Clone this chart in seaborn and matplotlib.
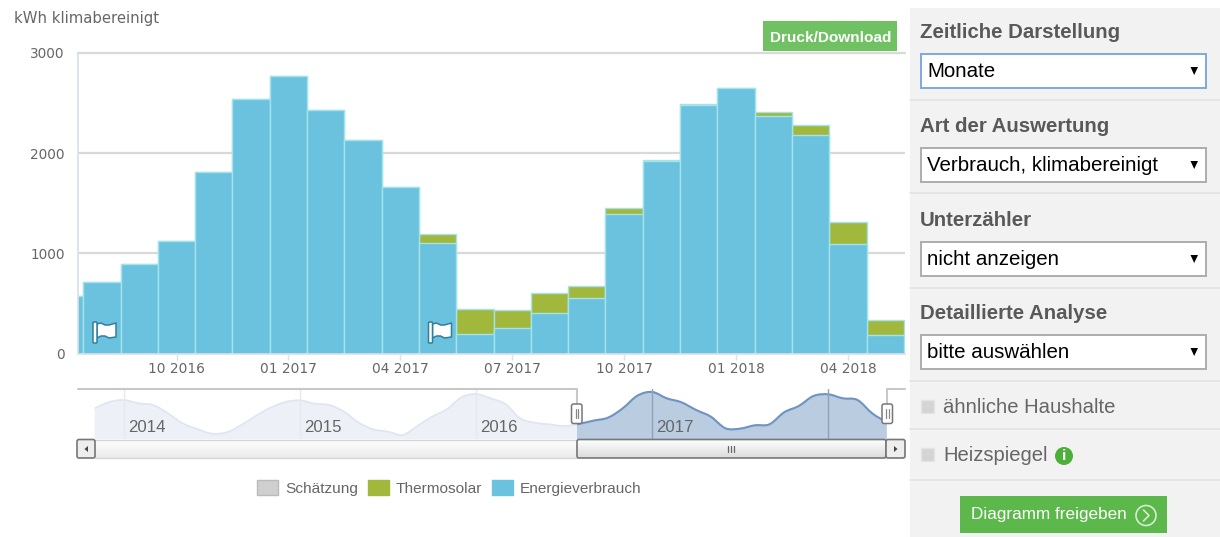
import matplotlib
matplotlib.use('Agg')
import matplotlib.pyplot as plt
from matplotlib.patches import Rectangle, FancyBboxPatch, Circle, Polygon, Patch, PathPatch
from matplotlib.path import Path
import numpy as np
import seaborn as sns

# monthly values, main chart
months = ['07 2016', '08 2016', '09 2016', '10 2016', '11 2016', '12 2016',
          '01 2017', '02 2017', '03 2017', '04 2017', '05 2017', '06 2017',
          '07 2017', '08 2017', '09 2017', '10 2017', '11 2017', '12 2017',
          '01 2018', '02 2018', '03 2018', '04 2018', '05 2018']
verbrauch = [575, 715, 895, 1125, 1815, 2545,
             2775, 2432, 2132, 1663, 1108, 198,
             252, 408, 558, 1390, 1925, 2478,
             2647, 2368, 2182, 1090, 182]
thermosolar = [0, 0, 0, 0, 0, 0,
               0, 0, 0, 0, 90, 243,
               180, 199, 113, 63, 10, 13,
               0, 43, 103, 223, 156]
y_ticks = [0, 1000, 2000, 3000]
x_tick_labels = ['10 2016', '01 2017', '04 2017', '07 2017', '10 2017', '01 2018', '04 2018']

# navigator overview, one value per month starting 11 2013
nav_values = [1860, 2240, 2360, 2160, 2060, 1560, 960, 620, 340, 420, 860, 1420,
              1900, 2240, 2340, 2140, 2060, 1660, 1000, 600, 460, 260, 800, 1360,
              1800, 2520, 2720, 2460, 2120, 1260, 1000, 900, 800, 920, 1120, 1300,
              1860, 2620, 2840, 2460, 2220, 1760, 1360, 660, 640, 840, 900, 1620,
              2000, 2600, 2700, 2460, 2360, 1560, 1020]
nav_years = ['2014', '2015', '2016', '2017']

legend_labels = ['Schätzung', 'Thermosolar', 'Energieverbrauch']
legend_colors = ['#cfcfcf', '#a2b83c', '#6bc2df']

panel_titles = ['Zeitliche Darstellung', 'Art der Auswertung', 'Unterzähler', 'Detaillierte Analyse']
panel_selects = ['Monate', 'Verbrauch, klimabereinigt', 'nicht anzeigen', 'bitte auswählen']

W, H = 1220, 537
BLUE = '#6bc2df'
GREEN = '#a2b83c'
EDGE = '#a5e3ea'
AXIS = '#d6e2ec'
TEXT = '#666666'

sns.set_theme(style='white')
plt.rcParams['font.family'] = ['Liberation Sans', 'DejaVu Sans']
plt.rcParams['patch.force_edgecolor'] = False


def axes_px(left, top, right, bottom, **kw):
    return fig.add_axes([left / W, 1 - bottom / H, (right - left) / W, (bottom - top) / H], **kw)


def spline_path(xs, ys, close=False):
    # the overview is an area spline, draw it with bezier segments through the points
    pts = np.column_stack([xs, ys]).astype(float)
    verts = [pts[0]]
    codes = [Path.MOVETO]
    for i in range(len(pts) - 1):
        before = pts[max(i - 1, 0)]
        after = pts[min(i + 2, len(pts) - 1)]
        verts += [pts[i] + (pts[i + 1] - before) / 6, pts[i + 1] - (after - pts[i]) / 6, pts[i + 1]]
        codes += [Path.CURVE4] * 3
    if close:
        verts += [(xs[-1], 0), (xs[0], 0), pts[0]]
        codes += [Path.LINETO, Path.LINETO, Path.CLOSEPOLY]
    return Path(verts, codes)


fig = plt.figure(figsize=(W / 100, H / 100), dpi=100, facecolor='white')

# main stacked bars: totals first, consumption painted over them
ax = axes_px(78, 53, 905, 353.5)
total = np.array(verbrauch) + np.array(thermosolar)
sns.barplot(x=months, y=total, color=GREEN, saturation=1, width=1, edgecolor=EDGE, linewidth=1, ax=ax)
sns.barplot(x=months, y=verbrauch, color=BLUE, saturation=1, width=1, edgecolor=EDGE, linewidth=1, ax=ax)
ax.set_xlim(0.359, 22.53)
ax.set_ylim(0, 3000)
ax.set_yticks(y_ticks)
ax.set_xticks([months.index(m) for m in x_tick_labels])
ax.set_xticklabels(x_tick_labels)
ax.tick_params(axis='x', length=4, width=1, color=AXIS, labelcolor=TEXT, labelsize=9.9, pad=2, bottom=True)
ax.tick_params(axis='y', length=0, labelcolor=TEXT, labelsize=9.8, pad=9.5)
for lab in ax.get_xticklabels() + ax.get_yticklabels():
    lab.set_family('DejaVu Sans')
ax.yaxis.grid(True, color='#d9d9d9', linewidth=1.6)
ax.set_axisbelow(True)
gridlines = ax.get_ygridlines()
gridlines[0].set_visible(False)
gridlines[-1].set_clip_on(False)
for side in ['top', 'right']:
    ax.spines[side].set_visible(False)
for side in ['left', 'bottom']:
    ax.spines[side].set_color(AXIS)
    ax.spines[side].set_linewidth(1.2)
ax.set_xlabel('')
ax.set_ylabel('')

# navigator
nav = axes_px(78, 389, 905, 439.3)
nav_x = np.arange(len(nav_values)) - 2
nav.set_xlim(-3.136, 53.24)
nav.set_ylim(0, 3020)
nav.axis('off')
sel_start = (577 - 124) / 14.67
area = spline_path(nav_x, nav_values, close=True)
line = spline_path(nav_x, nav_values)
nav.add_patch(PathPatch(area, facecolor='#edf0f6', edgecolor='none'))
nav.add_patch(PathPatch(line, facecolor='none', edgecolor='#dde6f1', linewidth=1.2))
clip = Rectangle((sel_start, 0), 60, 3020, transform=nav.transData)
sel_area = nav.add_patch(PathPatch(area, facecolor='#b9cce0', edgecolor='none'))
sel_line = nav.add_patch(PathPatch(line, facecolor='none', edgecolor='#6f94c3', linewidth=1.5))
sel_area.set_clip_path(clip)
sel_line.set_clip_path(clip)
for i in range(5):
    nav.axvline(i * 12, color='#8fa3b8' if i >= 3 else '#e6e9ee', linewidth=1, zorder=3)
for i, year in enumerate(nav_years):
    nav.text(i * 12 + 0.25, 680, year, fontsize=12.1, color=TEXT, va='center', ha='left', zorder=4)

# everything around the chart, in pixel coordinates
ui = fig.add_axes([0, 0, 1, 1], zorder=5)
ui.set_xlim(0, W)
ui.set_ylim(H, 0)
ui.axis('off')
ui.patch.set_alpha(0)


def rect(x0, y0, x1, y1, fc, ec='none', lw=0, z=2):
    ui.add_patch(Rectangle((x0, y0), x1 - x0, y1 - y0, facecolor=fc, edgecolor=ec, linewidth=lw, zorder=z))


def rbox(x0, y0, x1, y1, fc, ec, lw=1.2, rad=2, z=3):
    ui.add_patch(FancyBboxPatch((x0 + rad, y0 + rad), x1 - x0 - 2 * rad, y1 - y0 - 2 * rad,
                                boxstyle='round,pad=%d,rounding_size=%d' % (rad, rad),
                                facecolor=fc, edgecolor=ec, linewidth=lw, zorder=z))


ui.text(14, 19, 'kWh klimabereinigt', fontsize=10.7, color=TEXT, family='DejaVu Sans', va='center')

# flags
for fx in [93, 428.5]:
    flag = [(4, 2), (8, 1), (12, 3), (16, 3), (23, 1), (23, 15), (16, 16), (12, 14), (8, 14), (4, 16)]
    ui.add_patch(Polygon([(fx + a, 322 + b) for a, b in flag], closed=True, facecolor='white',
                         edgecolor='#2f7f9f', linewidth=1.1, joinstyle='round', zorder=3))
    rbox(fx, 322, fx + 4, 343, 'white', '#2f7f9f', lw=1.1, rad=1, z=4)

# Druck/Download
rect(763, 21, 897, 51, '#70c162')
ui.text(830.5, 38.5, 'Druck/Download', fontsize=11.1, color='white', fontweight='bold', ha='center', va='center', zorder=4)

# navigator frame, handles and scrollbar
ui.plot([78, 577, 577], [389, 389, 405], color='#c8c8c8', linewidth=1.5, zorder=3)
ui.plot([887, 887, 905], [405, 389, 389], color='#c8c8c8', linewidth=1.5, zorder=3)
grad = np.linspace(1, 0.86, 32).reshape(-1, 1)
ui.imshow(grad, extent=(95, 577, 458, 439), cmap='gray', vmin=0, vmax=1, aspect='auto', zorder=2, alpha=0.55)
ui.imshow(grad, extent=(577, 886, 458, 439), cmap='gray', vmin=0, vmax=1, aspect='auto', zorder=3)
ui.set_xlim(0, W)
ui.set_ylim(H, 0)
ui.plot([95, 577], [439.5, 439.5], color='#d5d5d5', linewidth=1, zorder=3)
ui.plot([95, 577], [457.5, 457.5], color='#d5d5d5', linewidth=1, zorder=3)
rbox(577, 439.5, 886, 458, 'none', '#777777')
rbox(77, 439.5, 95, 458, '#eeeeee', '#777777')
rbox(886, 439.5, 905, 458, '#eeeeee', '#777777')
ui.add_patch(Polygon([(88, 446), (88, 452), (84.5, 449)], facecolor='#444444', edgecolor='none', zorder=4))
ui.add_patch(Polygon([(894, 446), (894, 452), (897.5, 449)], facecolor='#444444', edgecolor='none', zorder=4))
for gx in [727.5, 730.5, 733.5]:
    ui.plot([gx, gx], [445.5, 452], color='#666666', linewidth=0.9, zorder=4)
for hx in [571.5, 882]:
    rbox(hx, 404, hx + 10.5, 423.5, 'white', '#777777', lw=1.1, rad=2, z=5)
    for dx in [4, 6.5]:
        ui.plot([hx + dx, hx + dx], [409, 418], color='#888888', linewidth=0.9, zorder=6)

# right panel
rect(910, 8, W, H, '#f2f2f2', z=1)
for sy in [100, 193, 288, 381, 429, 480]:
    ui.plot([910, W], [sy, sy], color='#e3e3e3', linewidth=1.2, zorder=2)
for title, sel, ty in zip(panel_titles, panel_selects, [32, 126, 220, 313]):
    focused = sel == 'Monate'
    ui.text(920, ty + 0.8, title, fontsize=14.7, fontweight='bold', color='#595959', va='center')
    rect(921, ty + 21.5, 1206, ty + 55.5, 'white', '#7fa8e2' if focused else '#adadad', 1.4, z=3)
    ui.text(927, ty + 39.8, sel, fontsize=14.8, color='black', va='center', zorder=4)
    ui.add_patch(Polygon([(1190.5, ty + 35), (1198, ty + 35), (1194.2, ty + 43)], facecolor='black', edgecolor='none', zorder=4))

for label, cy in zip(['ähnliche Haushalte', 'Heizspiegel'], [407, 455]):
    rect(921, cy - 7, 934, cy + 6, '#d4d4d4', '#e4e4e4', 1, z=3)
    ui.text(943, cy + 0.5, label, fontsize=14.6, color=TEXT, va='center', zorder=4)
ui.add_patch(Circle((1064, 456), 9, facecolor='#4caf3a', edgecolor='none', zorder=3))
ui.text(1064, 456, 'i', fontsize=11, fontweight='bold', color='white', ha='center', va='center', zorder=4)

rect(960, 496, 1167, 533, '#5cb84a')
ui.text(971, 514.5, 'Diagramm freigeben', fontsize=12.3, color='white', va='center', zorder=4)
ui.add_patch(Circle((1146, 515.5), 10, facecolor='none', edgecolor='#d5edd0', linewidth=1.2, zorder=4))
ui.plot([1143.5, 1149, 1143.5], [510, 515.5, 521], color='#d5edd0', linewidth=1.2, zorder=4)

# legend
handles = [Patch(facecolor=c, edgecolor='#bbbbbb' if c == '#cfcfcf' else c) for c in legend_colors]
fig.legend(handles, legend_labels, loc='center left', bbox_to_anchor=(257 / W, 1 - 488 / H), ncol=3,
           frameon=False, fontsize=11.1, labelcolor=TEXT, borderpad=0, borderaxespad=0,
           handlelength=1.36, handleheight=1.1, handletextpad=0.45, columnspacing=0.64)

fig.savefig('out.png', dpi=100)
